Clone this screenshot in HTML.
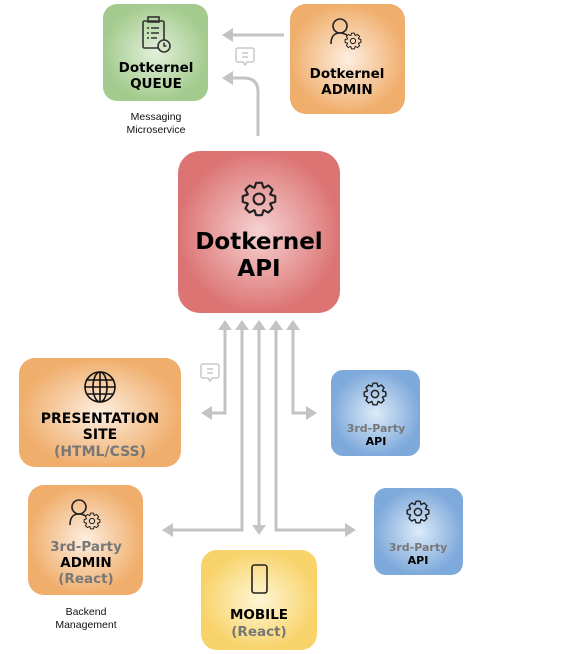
<!DOCTYPE html>
<html><head><meta charset="utf-8"><style>
body{margin:0;background:#fff}
svg{display:block}
text{font-family:"DejaVu Sans",sans-serif;font-weight:bold;text-anchor:middle}
.s{font-family:"Liberation Sans",sans-serif;font-weight:normal;font-size:10.5px;fill:#111}
.g{fill:#777}
</style></head><body>
<svg width="570" height="654" viewBox="0 0 570 654" xmlns="http://www.w3.org/2000/svg">
<defs>
<radialGradient id="gr"><stop offset="0" stop-color="#e2f0da"/><stop offset="1" stop-color="#a4cb8e"/></radialGradient>
<radialGradient id="or"><stop offset="0" stop-color="#fdeee0"/><stop offset="1" stop-color="#f0ae6c"/></radialGradient>
<radialGradient id="rd"><stop offset="0" stop-color="#f7d2d2"/><stop offset="1" stop-color="#dc7474"/></radialGradient>
<radialGradient id="bl"><stop offset="0" stop-color="#dcebf8"/><stop offset="1" stop-color="#7ea9db"/></radialGradient>
<radialGradient id="yl"><stop offset="0" stop-color="#fff6d6"/><stop offset="1" stop-color="#f7d36a"/></radialGradient>
<g id="gear" fill="none" stroke="#222" stroke-width="0.13" stroke-linejoin="round">
<path id="gp" d=""/><circle r="0.33"/>
</g>
</defs>
<rect x="103" y="4" width="105" height="97" rx="14" fill="url(#gr)"/>
<rect x="290" y="4" width="115" height="110" rx="16" fill="url(#or)"/>
<rect x="178" y="151" width="162" height="162" rx="22" fill="url(#rd)"/>
<rect x="19" y="358" width="162" height="109" rx="16" fill="url(#or)"/>
<rect x="331" y="370" width="89" height="86" rx="12" fill="url(#bl)"/>
<rect x="28" y="485" width="115" height="110" rx="16" fill="url(#or)"/>
<rect x="374" y="488" width="89" height="87" rx="12" fill="url(#bl)"/>
<rect x="201" y="550" width="116" height="100" rx="16" fill="url(#yl)"/>
<g fill="none" stroke="#c3c3c3" stroke-width="3">
<path d="M284 35 H232"/>
<path d="M258 136 V92 Q258 78 244 78 H232"/>
<path d="M225 326 V413 H210"/>
<path d="M242 326 V530 H172"/>
<path d="M259 326 V525"/>
<path d="M276 326 V530 H346"/>
<path d="M293 326 V413 H308"/>
</g>
<g fill="#c3c3c3">
<path d="M222 35 l11 -7 v14z"/><path d="M222 78 l11 -7 v14z"/>
<path d="M225 320 l-7 10 h14z"/><path d="M242 320 l-7 10 h14z"/><path d="M259 320 l-7 10 h14z"/><path d="M276 320 l-7 10 h14z"/><path d="M293 320 l-7 10 h14z"/>
<path d="M201 413 l11 -7 v14z"/><path d="M317 413 l-11 -7 v14z"/>
<path d="M162 530 l11 -7 v14z"/><path d="M356 530 l-11 -7 v14z"/>
<path d="M259 535 l-7 -10 h14z"/>
</g>
<g fill="#fff" stroke="#c8c8c8" stroke-width="1.5">
<path d="M238 48 h14 a2 2 0 0 1 2 2 v10 a2 2 0 0 1-2 2 h-5 l-2 3 l-2 -3 h-5 a2 2 0 0 1-2-2 v-10 a2 2 0 0 1 2-2z"/>
<path d="M203 364 h14 a2 2 0 0 1 2 2 v10 a2 2 0 0 1-2 2 h-5 l-2 3 l-2 -3 h-5 a2 2 0 0 1-2-2 v-10 a2 2 0 0 1 2-2z"/>
<path d="M242 53 h6 M242 57 h6 M207 369 h6 M207 373 h6"/>
</g>
<g fill="none" stroke="#333" stroke-width="1.6">
<rect x="143" y="21" width="21" height="27" rx="1.5"/><rect x="148" y="17" width="11" height="5"/>
<path d="M147 28 h2 M151 28 h8 M147 33 h2 M151 33 h8 M147 38 h2 M151 38 h6"/>
<circle cx="164" cy="46" r="6" fill="#d4e8c8"/><path d="M164 42.5 v3.5 h2.5"/>
</g>
<g fill="none" stroke="#222" stroke-width="1.6">
<circle cx="340" cy="26" r="7"/><path d="M331 44 C331 35 335 33 340 33 C343 33 345 34 347 35"/>
</g>
<use href="#gear" transform="translate(353,41) scale(8)"/>
<use href="#gear" transform="translate(259,199) scale(16.5)"/>
<g fill="none" stroke="#111" stroke-width="1.6"><circle cx="100" cy="387" r="15"/><ellipse cx="100" cy="387" rx="7" ry="15"/><path d="M85 387 h30 M87 380 h26 M87 394 h26 M100 372 v30"/></g>
<use href="#gear" transform="translate(375,394) scale(11)"/>
<g fill="none" stroke="#222" stroke-width="1.6">
<circle cx="79" cy="507" r="7"/><path d="M70 525 C70 516 74 514 79 514 C82 514 84 515 86 516"/>
</g>
<use href="#gear" transform="translate(92,521) scale(8)"/>
<use href="#gear" transform="translate(418,512) scale(11)"/>
<rect x="252" y="565" width="15" height="28" rx="2.5" fill="none" stroke="#222" stroke-width="1.6"/>
<text x="156" y="72" font-size="13.5">Dotkernel</text><text x="156" y="88" font-size="13.5">QUEUE</text>
<text x="156" y="120" class="s">Messaging</text><text x="156" y="133" class="s">Microservice</text>
<text x="347" y="78" font-size="13.5">Dotkernel</text><text x="347" y="94" font-size="13.5">ADMIN</text>
<text x="259" y="249" font-size="23">Dotkernel</text><text x="259" y="276" font-size="23">API</text>
<text x="100" y="423" font-size="14">PRESENTATION</text><text x="100" y="439" font-size="14">SITE</text><text x="100" y="456" font-size="14" class="g">(HTML/CSS)</text>
<text x="376" y="432" font-size="11" class="g">3rd-Party</text><text x="376" y="445" font-size="11">API</text>
<text x="86" y="551" font-size="13.5" class="g">3rd-Party</text><text x="86" y="567" font-size="13.5">ADMIN</text><text x="86" y="583" font-size="13.5" class="g">(React)</text>
<text x="86" y="615" class="s">Backend</text><text x="86" y="628" class="s">Management</text>
<text x="418" y="551" font-size="11" class="g">3rd-Party</text><text x="418" y="564" font-size="11">API</text>
<text x="259" y="619" font-size="13.5">MOBILE</text><text x="259" y="636" font-size="13.5" class="g">(React)</text>
</svg>
<script>
(function(){var n=8,R=1,r=0.74,d="";for(var i=0;i<n;i++){var a=i*2*Math.PI/n,w=Math.PI/n;
var pts=[[r,a-w*0.95],[R,a-w*0.45],[R,a+w*0.45],[r,a+w*0.95]];
pts.forEach(function(p,j){var x=(p[0]*Math.cos(p[1])).toFixed(3),y=(p[0]*Math.sin(p[1])).toFixed(3);d+=(i==0&&j==0?"M":"L")+x+" "+y+" ";});}
d+="Z";document.getElementById("gp").setAttribute("d",d);})();
</script>
</body></html>
